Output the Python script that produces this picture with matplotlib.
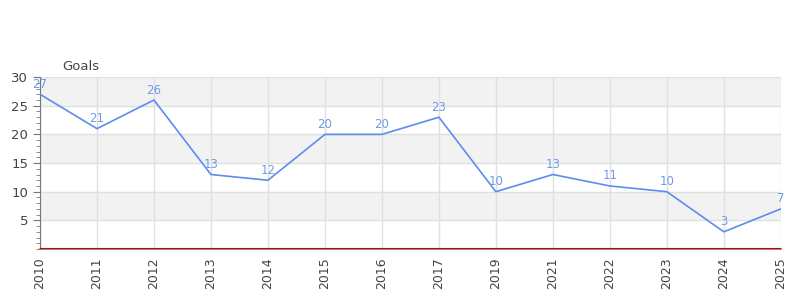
import matplotlib
matplotlib.use("Agg")
import matplotlib.pyplot as plt
from matplotlib.ticker import MultipleLocator

years = ["2010", "2011", "2012", "2013", "2014", "2015", "2016",
         "2017", "2019", "2021", "2022", "2023", "2024", "2025"]
goals = [27, 21, 26, 13, 12, 20, 20, 23, 10, 13, 11, 10, 3, 7]

line_col = "#5b8def"
label_col = "#6f9ae8"
text_col = "#444444"

fig = plt.figure(figsize=(8, 3), dpi=100)
ax = fig.add_axes([0.05, 0.17, 0.926, 0.573])

for s in ["top", "right"]:
    ax.spines[s].set_visible(False)
ax.spines["left"].set_color("#777777")
ax.spines["bottom"].set_color("#777777")
ax.spines["bottom"].set_linewidth(1.2)

x = list(range(len(years)))
ax.set_xlim(0, len(years) - 1)
ax.set_ylim(0, 30)

# alternating bands
for lo in range(0, 30, 5):
    if (lo // 5) % 2 == 1:
        ax.axhspan(lo, lo + 5, color="#f2f2f2", zorder=0, lw=0)

ax.set_xticks(x)
ax.set_xticklabels(years, rotation=90, color=text_col, fontsize=9)
ax.set_yticks([5, 10, 15, 20, 25, 30])
ax.yaxis.set_minor_locator(MultipleLocator(1))
ax.tick_params(axis="y", labelsize=9.5, colors=text_col, length=5, color="#777777")
ax.tick_params(axis="y", which="minor", length=3, color="#777777")
ax.tick_params(axis="x", length=0, pad=6)
ax.grid(True, color="#e0e0e0", lw=1, zorder=1)
ax.set_axisbelow(True)

ax.axhline(0.2, color="#cc0000", lw=0.8, zorder=3)

ax.plot(x, goals, color=line_col, lw=1.2, zorder=4)
for xi, g in zip(x, goals):
    ax.annotate(str(g), (xi, g), xytext=(0, 2.5), textcoords="offset points",
                ha="center", va="bottom", color=label_col, fontsize=8.5, zorder=5)

fig.text(62 / 800, 1 - 66 / 300, "Goals", color=text_col, fontsize=9.5,
         va="center", ha="left")

fig.savefig("out.png", dpi=100)
